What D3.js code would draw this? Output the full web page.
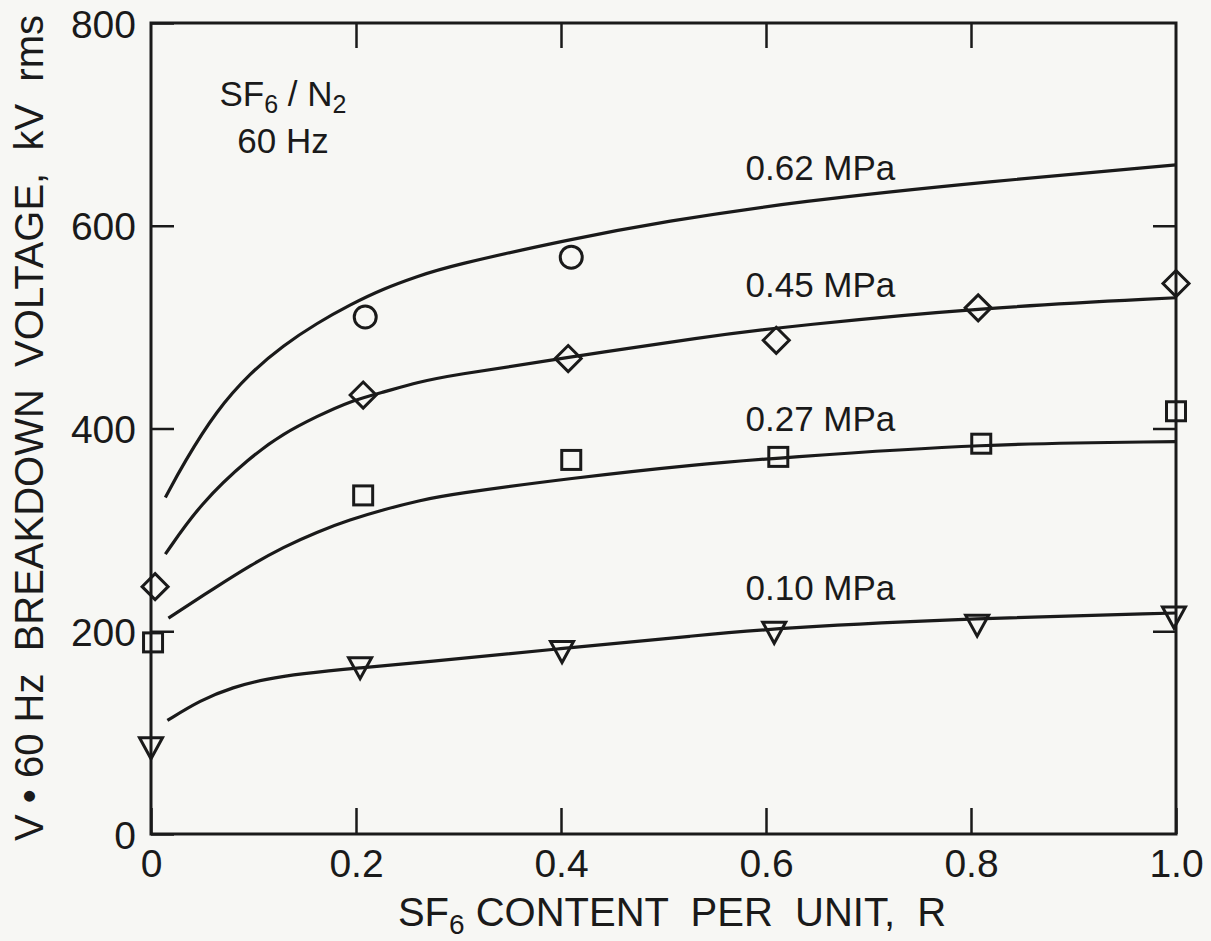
<!DOCTYPE html>
<html>
<head>
<meta charset="utf-8">
<script src="https://cdn.jsdelivr.net/npm/d3@7"></script>
<style>
  body { margin: 0; background: #f7f7f4; }
  svg { display: block; font-family: "Liberation Sans", Arial, Helvetica, sans-serif; }
  .frame { fill: none; stroke: #1a1a1a; stroke-width: 3; }
  .axis line { stroke: #1a1a1a; stroke-width: 2.5; }
  .axis path { display: none; }
  .axis text { fill: #1a1a1a; font-size: 39px; }
  .fit { fill: none; stroke: #1a1a1a; stroke-width: 3.2; }
  .marker { fill: none; stroke: #1a1a1a; stroke-width: 3; }
  .label { fill: #1a1a1a; font-size: 35px; }
  .title { fill: #1a1a1a; font-size: 40px; }
</style>
</head>
<body>
<svg id="chart" width="1211" height="941"></svg>
<script>
// ---- data ----
const xTicks = [0, 0.2, 0.4, 0.6, 0.8, 1.0];
const yTicks = [0, 200, 400, 600, 800];
const pressures = ["0.62 MPa", "0.45 MPa", "0.27 MPa", "0.10 MPa"];

// measured points (open markers)
const circleX = [0.209, 0.410];
const circleV = [510, 569];
const diamondX = [0.004, 0.207, 0.407, 0.610, 0.807, 1.0];
const diamondV = [244, 433, 469, 487, 519, 543];
const squareX = [0.002, 0.207, 0.410, 0.612, 0.810, 1.0];
const squareV = [189, 334, 369, 372, 385, 417];
const triangleX = [0.0, 0.204, 0.401, 0.608, 0.806, 0.998];
const triangleV = [85, 164, 180, 199, 206, 214];

// fitted curves
const fit62X = [0.014, 0.032, 0.064, 0.097, 0.129, 0.162, 0.194, 0.227, 0.26, 0.29, 0.41, 0.5, 0.63, 0.82, 1.0];
const fit62V = [332, 366, 418, 455, 482, 504, 522, 538, 550, 560, 587, 604, 624, 644, 660];
const fit45X = [0.014, 0.048, 0.097, 0.129, 0.162, 0.194, 0.227, 0.262, 0.29, 0.407, 0.536, 0.633, 0.807, 1.0];
const fit45V = [276, 326, 372, 395, 412, 427, 436, 446, 452, 470, 490, 502, 519, 529];
const fit27X = [0.017, 0.064, 0.097, 0.129, 0.162, 0.194, 0.227, 0.262, 0.292, 0.409, 0.536, 0.612, 0.81, 1.0];
const fit27V = [213, 244, 265, 283, 298, 310, 320, 329, 335, 351, 365, 371, 385, 387];
const fit10X = [0.016, 0.048, 0.08, 0.113, 0.145, 0.204, 0.262, 0.4, 0.536, 0.609, 0.806, 1.0];
const fit10V = [112, 132, 145, 153, 158, 164, 169, 183, 196, 203, 213, 218];

// curve label anchors (data units)
const labelX = [0.58, 0.58, 0.58, 0.58];
const labelV = [645, 530, 398, 231];

// ---- layout ----
const svg = d3.select("#chart");
const margin = { left: 151, right: 35, top: 23, bottom: 107 };
const W = 1211, H = 941;

const x = d3.scaleLinear().domain([0, 1]).range([margin.left, W - margin.right]);
const y = d3.scaleLinear().domain([0, 800]).range([H - margin.bottom, margin.top]);

const zip = (xs, vs) => xs.map((d, i) => [d, vs[i]]);

// axes (ticks point inward)
svg.append("g").attr("class", "axis xb")
  .attr("transform", `translate(0,${y(0)})`)
  .call(d3.axisBottom(x).tickValues(xTicks).tickSize(-26).tickPadding(15)
    .tickFormat(d => d === 0 ? "0" : d3.format(".1f")(d)));

svg.append("g").attr("class", "axis")
  .attr("transform", `translate(0,${y(800)})`)
  .call(d3.axisTop(x).tickValues(xTicks.slice(1, -1)).tickSize(-25).tickFormat(""));

svg.append("g").attr("class", "axis yl")
  .attr("transform", `translate(${x(0)},0)`)
  .call(d3.axisLeft(y).tickValues(yTicks).tickSize(-23).tickPadding(15));

svg.append("g").attr("class", "axis")
  .attr("transform", `translate(${x(1)},0)`)
  .call(d3.axisRight(y).tickValues(yTicks.slice(1, -1)).tickSize(-23).tickFormat(""));

svg.selectAll(".xb .tick text").attr("dy", "0.71em");
svg.selectAll(".yl .tick text").attr("dy", "0.36em");

svg.append("rect").attr("class", "frame")
  .attr("x", x(0)).attr("y", y(800))
  .attr("width", x(1) - x(0)).attr("height", y(0) - y(800));

// fitted curves
const line = d3.line().x(d => x(d[0])).y(d => y(d[1])).curve(d3.curveBasis);
[zip(fit62X, fit62V), zip(fit45X, fit45V), zip(fit27X, fit27V), zip(fit10X, fit10V)]
  .forEach(pts => svg.append("path").attr("class", "fit").attr("d", line(pts)));

// markers
const g = svg.append("g");
g.selectAll(".c").data(zip(circleX, circleV)).join("circle")
  .attr("class", "marker").attr("cx", d => x(d[0])).attr("cy", d => y(d[1])).attr("r", 11);

g.selectAll(".d").data(zip(diamondX, diamondV)).join("path")
  .attr("class", "marker")
  .attr("d", d => { const cx = x(d[0]), cy = y(d[1]), s = 13;
    return `M${cx},${cy - s}L${cx + s},${cy}L${cx},${cy + s}L${cx - s},${cy}Z`; });

g.selectAll(".s").data(zip(squareX, squareV)).join("rect")
  .attr("class", "marker")
  .attr("x", d => x(d[0]) - 9.5).attr("y", d => y(d[1]) - 9.5)
  .attr("width", 19).attr("height", 19);

g.selectAll(".t").data(zip(triangleX, triangleV)).join("path")
  .attr("class", "marker")
  .attr("d", d => { const cx = x(d[0]), cy = y(d[1]);
    return `M${cx - 11.5},${cy - 10}L${cx + 11.5},${cy - 10}L${cx},${cy + 11}Z`; });

// curve labels
svg.selectAll(".label").data(pressures).join("text")
  .attr("class", "label")
  .attr("x", (d, i) => x(labelX[i])).attr("y", (d, i) => y(labelV[i]))
  .text(d => d);

// gas / frequency note
const note = svg.append("text").attr("class", "label").attr("x", 283).attr("y", 106).attr("text-anchor", "middle");
note.append("tspan").text("SF");
note.append("tspan").attr("dy", 7).attr("font-size", 25).text("6");
note.append("tspan").attr("dy", -7).text(" / N");
note.append("tspan").attr("dy", 7).attr("font-size", 25).text("2");
svg.append("text").attr("class", "label").attr("x", 283).attr("y", 153).attr("text-anchor", "middle").text("60 Hz");

// axis titles
const xt = svg.append("text").attr("class", "title")
  .attr("x", 672).attr("y", 926).attr("text-anchor", "middle")
  .style("white-space", "pre");
xt.append("tspan").text("SF");
xt.append("tspan").attr("dy", 8).attr("font-size", 28).text("6");
xt.append("tspan").attr("dy", -8).text(" CONTENT  PER  UNIT,  R");

svg.append("text").attr("class", "title")
  .attr("transform", `translate(43,428) rotate(-90)`)
  .attr("text-anchor", "middle")
  .style("white-space", "pre")
  .text("V \u2022 60 Hz  BREAKDOWN  VOLTAGE,  kV  rms");
</script>
</body>
</html>
